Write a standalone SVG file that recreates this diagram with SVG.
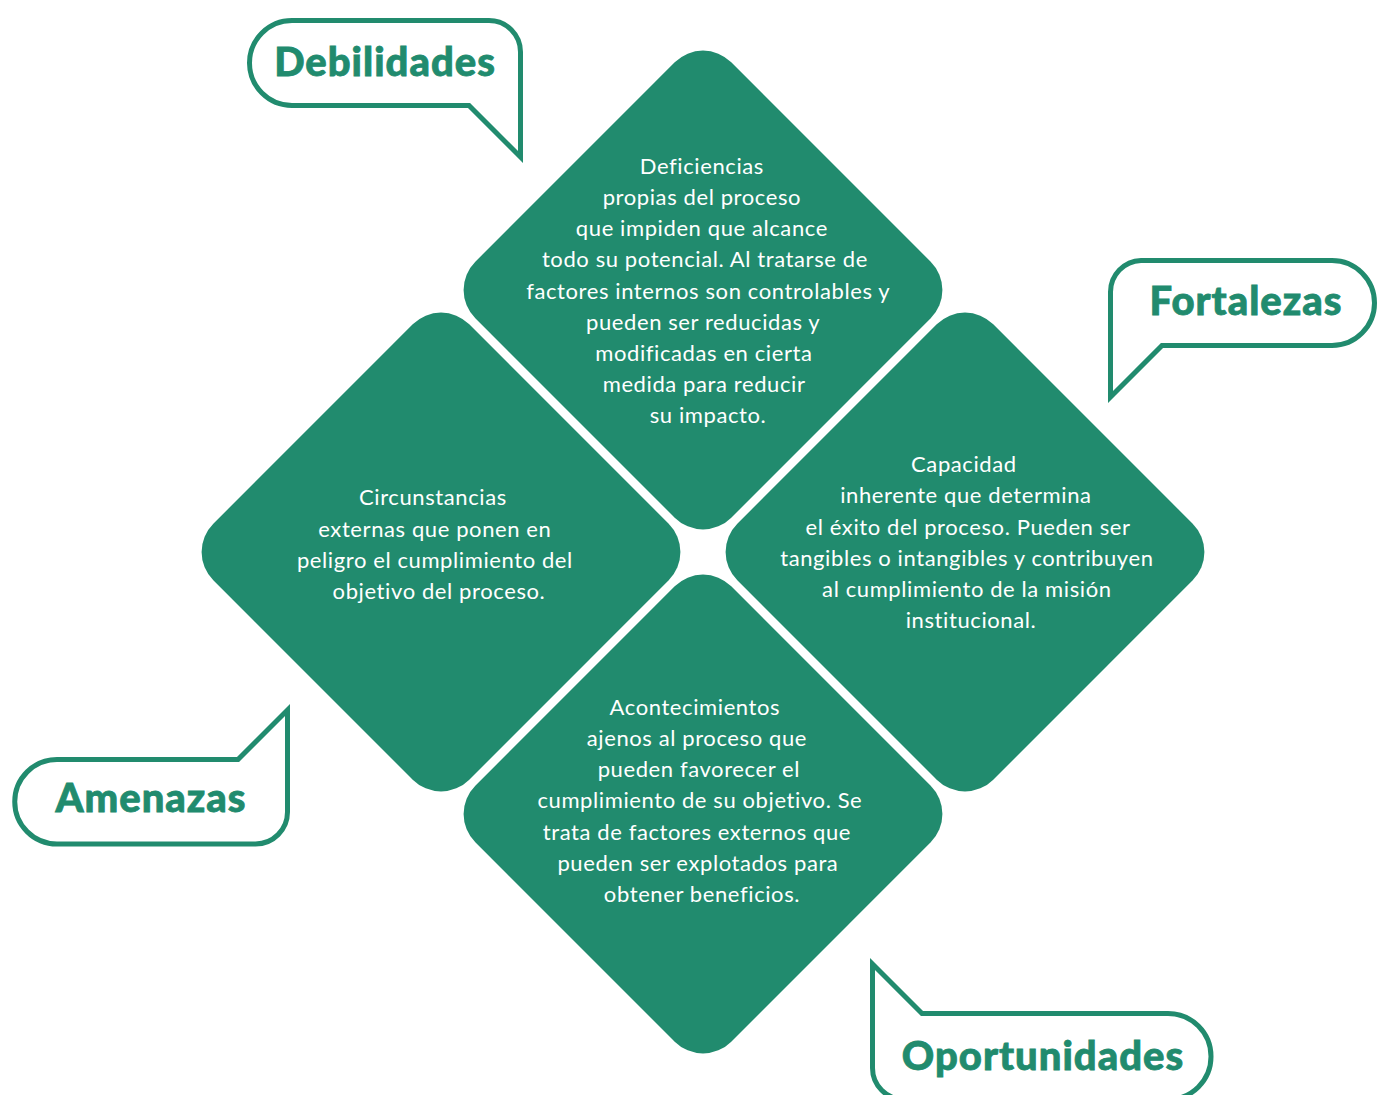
<svg xmlns="http://www.w3.org/2000/svg" width="1378" height="1095" viewBox="0 0 1378 1095">
<defs>
<style>
.dia{fill:#218B6E}
.body{font-family:Lato,"Open Sans","Liberation Sans",sans-serif;font-size:22px;letter-spacing:0.6px;fill:#ffffff;text-anchor:middle}
.bubble{fill:#ffffff;stroke:#218B6E;stroke-width:5;stroke-linejoin:miter}
.title{font-family:Lato,"Open Sans","Liberation Sans",sans-serif;font-size:40px;font-weight:900;letter-spacing:1px;fill:#218B6E;stroke:#218B6E;stroke-width:0.8;text-anchor:middle}
</style>
</defs>
<rect width="1378" height="1095" fill="#ffffff"/>
<g id="connectors"></g>
<g id="debilidades-diamond">
<rect class="dia" x="-181" y="-181" width="362" height="362" rx="40" transform="translate(703,290) rotate(45)"/>
<text class="body">
<tspan x="705" y="174">Deficiencias</tspan>
<tspan x="705" y="205">propias del proceso</tspan>
<tspan x="705" y="236">que impiden que alcance</tspan>
<tspan x="708" y="267">todo su potencial. Al tratarse de</tspan>
<tspan x="711" y="299">factores internos son controlables y</tspan>
<tspan x="706" y="330">pueden ser reducidas y</tspan>
<tspan x="707" y="361">modificadas en cierta</tspan>
<tspan x="707" y="392">medida para reducir</tspan>
<tspan x="708" y="423">su impacto.</tspan>
</text>
</g>
<g id="amenazas-diamond">
<rect class="dia" x="-181" y="-181" width="362" height="362" rx="40" transform="translate(441,552) rotate(45)"/>
<text class="body">
<tspan x="436" y="505">Circunstancias</tspan>
<tspan x="438" y="537">externas que ponen en</tspan>
<tspan x="438" y="568">peligro el cumplimiento del</tspan>
<tspan x="439" y="599">objetivo del proceso.</tspan>
</text>
</g>
<g id="fortalezas-diamond">
<rect class="dia" x="-181" y="-181" width="362" height="362" rx="40" transform="translate(965,552) rotate(45)"/>
<text class="body">
<tspan x="967" y="472">Capacidad</tspan>
<tspan x="969" y="503">inherente que determina</tspan>
<tspan x="971" y="535">el éxito del proceso. Pueden ser</tspan>
<tspan x="970" y="566">tangibles o intangibles y contribuyen</tspan>
<tspan x="970" y="597">al cumplimiento de la misión</tspan>
<tspan x="971" y="628">institucional.</tspan>
</text>
</g>
<g id="oportunidades-diamond">
<rect class="dia" x="-181" y="-181" width="362" height="362" rx="40" transform="translate(703,814) rotate(45)"/>
<text class="body">
<tspan x="698" y="715">Acontecimientos</tspan>
<tspan x="700" y="746">ajenos al proceso que</tspan>
<tspan x="702" y="777">pueden favorecer el</tspan>
<tspan x="703" y="808">cumplimiento de su objetivo. Se</tspan>
<tspan x="700" y="840">trata de factores externos que</tspan>
<tspan x="701" y="871">pueden ser explotados para</tspan>
<tspan x="702" y="902">obtener beneficios.</tspan>
</text>
</g>
<g id="debilidades-label">
<path class="bubble" d="M 292 20.5 H 489 A 31.5 31.5 0 0 1 520.5 52 V 157 L 469 105.5 H 292 A 42.5 42.5 0 0 1 292 20.5 Z"/>
<text class="title" x="385" y="76">Debilidades</text>
</g>
<g id="fortalezas-label">
<path class="bubble" d="M 1141 260.5 H 1332 A 42.5 42.5 0 0 1 1332 345.5 H 1162 L 1110.5 397 V 292 A 31.5 31.5 0 0 1 1141 260.5 Z"/>
<text class="title" x="1246" y="315">Fortalezas</text>
</g>
<g id="amenazas-label">
<path class="bubble" d="M 57 759.5 H 238 L 287.5 710 V 812 A 32 32 0 0 1 255.5 844 H 57 A 42.25 42.25 0 0 1 57 759.5 Z"/>
<text class="title" x="151" y="812">Amenazas</text>
</g>
<g id="oportunidades-label">
<path class="bubble" d="M 872.5 964 L 922 1013.5 H 1168 A 43 43 0 0 1 1168 1099.5 H 904 A 31.5 31.5 0 0 1 872.5 1068 Z"/>
<text class="title" x="1043" y="1070">Oportunidades</text>
</g>
</svg>
